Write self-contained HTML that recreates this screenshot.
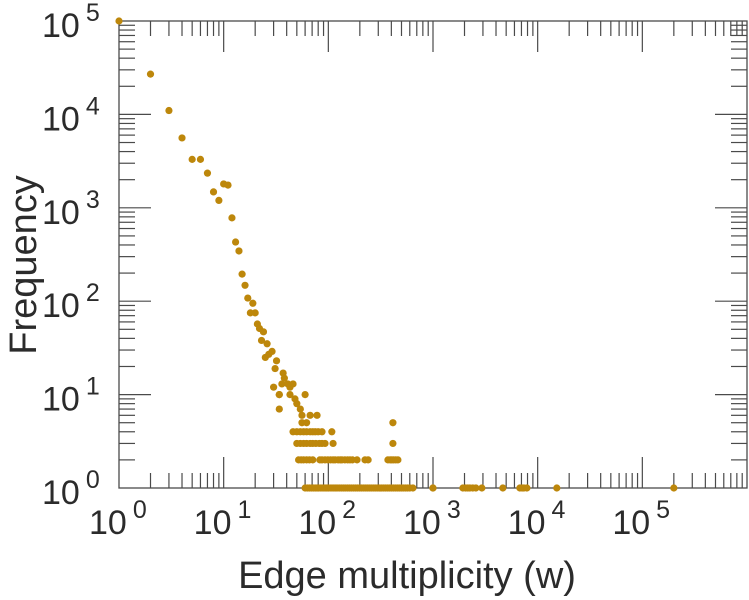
<!DOCTYPE html>
<html><head><meta charset="utf-8"><style>
body{margin:0;background:#fff;}
svg{display:block;font-family:"Liberation Sans",sans-serif;}
</style></head><body>
<svg id="chart" width="749" height="600" viewBox="0 0 749 600">
<g id="ticks" stroke="#4a4a4a" stroke-width="1.2"></g>
<rect x="119" y="21" width="628" height="467" fill="none" stroke="#4a4a4a" stroke-width="1.3"/>
<g id="pts" fill="#bd870b"></g>
<g id="labels" fill="#2b2b2b"></g>
<text x="407" y="588" font-size="38" text-anchor="middle" fill="#2b2b2b">Edge multiplicity (w)</text>
<text transform="translate(36,265) rotate(-90)" font-size="38" text-anchor="middle" fill="#2b2b2b">Frequency</text>
</svg>
<script>
const xTicks=[0,1,2,3,4,5];
const yTicks=[0,1,2,3,4,5];
const headW=[1,2,3,4,5,6,7,8,9,10,11,12,13,14,15,16,17,18,19,20,21,22,23,24,25,26,27,29,31,32,30,34,36,37,38,41,43,43,46,34,60,48,50,34,54,56,67,78,56,62,414];
const headF=[100000,27000,11000,5600,3300,3300,2350,1480,1200,1800,1750,780,430,345,195,148,108,75,95,75,57,51,38,47,25,35,27,29,19,23,12,10,13,17,15,13,12,10,13,7,10,9,8,10,7,6,6,6,5,5,5];
const w4=[46,50,54,58,62,67,71,75,80,87,108];
const w3=[50,54,58,62,67,71,76,82,87,93,111,414];
const w2=[52,55,58,62,66,71,83,87,93,99,105,111,116,124,130,135,144,153,161,170,188,224,240,371,390,404,420,440,462];
const w1=[60,63,66,69,72,75,78,81,85,89,93,97,101,106,111,116,121,127,133,139,145,152,159,166,174,182,190,199,208,218,228,238,249,260,272,284,297,310,324,338,353,369,385,402,420,440,460,480,500,520,545,570,600,643,998,1000,1930,2050,2150,2250,2400,2570,2930,4650,6760,7100,7380,7890,15240,200000];
const X0=119,X1=747,Y0=488,Y1=21;
const xs=v=>X0+(Math.log10(v)/6)*(X1-X0);
const ys=v=>Y0-(Math.log10(v)/5)*(Y0-Y1);
const NS="http://www.w3.org/2000/svg";
const tk=document.getElementById('ticks'),pg=document.getElementById('pts'),lg=document.getElementById('labels');
function line(x1,y1,x2,y2,n){const l=document.createElementNS(NS,'line');l.setAttribute('x1',x1);l.setAttribute('y1',y1);l.setAttribute('x2',x2);l.setAttribute('y2',y2);


tk.appendChild(l);}
for(let d=0;d<6;d++){for(let m=1;m<10;m++){const x=xs(Math.pow(10,d)*m);const L=m==1?31:15;if(m==1&&d==0)continue;
line(x,Y0,x,Y0-L,'x-tick');line(x,Y1,x,Y1+L,'x-tick-top');}}
for(let d=0;d<5;d++){for(let m=1;m<10;m++){const y=ys(Math.pow(10,d)*m);const L=m==1?32:16;if(m==1&&d==0)continue;
line(X0,y,X0+L,y,'y-tick');line(X1,y,X1-L,y,'y-tick-right');}}
function lab(x,y,e,anchor,n){const t=document.createElementNS(NS,'text');t.setAttribute('x',x);t.setAttribute('y',y);t.setAttribute('font-size','34');t.setAttribute('text-anchor',anchor);


t.innerHTML='10<tspan font-size="25" dy="-16" dx="6">'+e+'</tspan>';lg.appendChild(t);}
yTicks.forEach(e=>lab(42,ys(Math.pow(10,e))+16,e,'start','y-tick-label'));
xTicks.forEach(e=>lab(xs(Math.pow(10,e))-30,534,e,'start','x-tick-label'));
function dot(w,f){const c=document.createElementNS(NS,'circle');c.setAttribute('cx',xs(w));c.setAttribute('cy',ys(f));c.setAttribute('r',3.6);


pg.appendChild(c);}
headW.forEach((w,i)=>dot(w,headF[i]));
w4.forEach(w=>dot(w,4));w3.forEach(w=>dot(w,3));w2.forEach(w=>dot(w,2));w1.forEach(w=>dot(w,1));
</script>
</body></html>
